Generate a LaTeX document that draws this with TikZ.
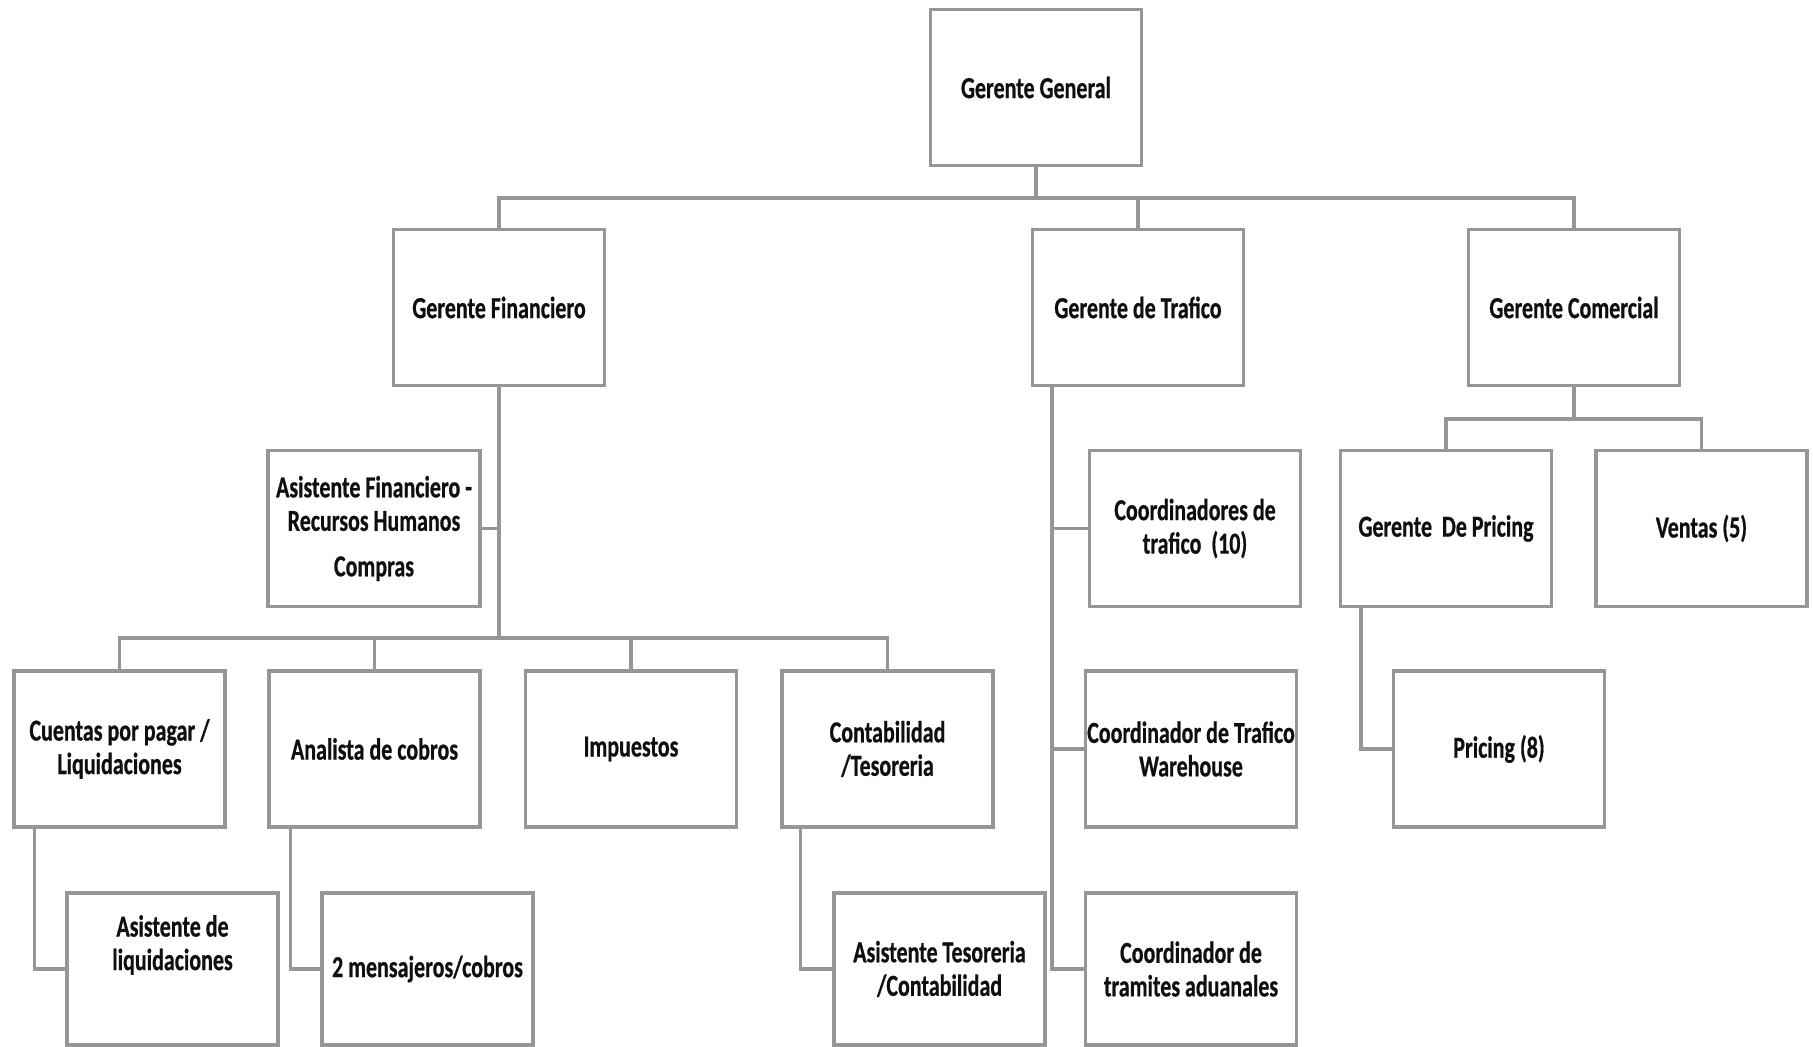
\documentclass[tikz,border=0pt]{standalone}
\usepackage{fontspec}
\setmainfont{Carlito}[FakeStretch=0.72, BoldFeatures={FakeBold=0.6}]
\definecolor{linegray}{RGB}{150,150,150}
\definecolor{txt}{RGB}{15,15,15}
\begin{document}
\begin{tikzpicture}[x=1pt,y=-1pt,
  box/.style={draw=linegray, line width=3.2pt, fill=white, minimum width=211pt, minimum height=156pt,
    inner sep=0pt, align=center, font=\fontsize{30.5}{33.5}\selectfont\bfseries, text=txt},
  conn/.style={draw=linegray, line width=3.2pt},
  lbl/.style={inner sep=0pt, align=center, font=\fontsize{30.5}{33.5}\selectfont\bfseries, text=txt}]
\useasboundingbox (0,0) rectangle (1813,1047);
% level 0/1
\node[box] (gg) at (1036,87.5) {Gerente General};
\node[box] (gf) at (499,307.5) {Gerente Financiero};
\node[box] (gt) at (1138,307.5) {Gerente de Trafico};
\node[box] (gc) at (1574,307.5) {Gerente Comercial};
% financiero
\node[box, minimum width=212pt] (af) at (374,528.5) {Asistente Financiero -\\Recursos Humanos\\[12pt]Compras};
\node[box] (cp) at (119.5,749) {Cuentas por pagar /\\Liquidaciones};
\node[box] (an) at (374.5,749) {Analista de cobros};
\node[box] (im) at (631,749) {Impuestos};
\node[box] (co) at (887.5,749) {Contabilidad\\/Tesoreria};
\node[box, minimum height=152pt] (al) at (172.5,969) {};
\node[lbl] (altext) at ([yshift=24pt]al.center) {Asistente de\\liquidaciones};
\node[box, minimum height=152pt] (me) at (427.5,969) {2 mensajeros/cobros};
\node[box, minimum height=152pt] (at) at (939.5,969) {Asistente Tesoreria\\/Contabilidad};
% trafico
\node[box] (ct) at (1195,528.5) {Coordinadores de\\trafico\ \ (10)};
\node[box] (cw) at (1191,749) {Coordinador de Trafico\\Warehouse};
\node[box, minimum height=152pt] (ca) at (1191,969) {Coordinador de\\tramites aduanales};
% comercial
\node[box] (gp) at (1446,528.5) {Gerente\ \ De Pricing};
\node[box] (ve) at (1701.5,528.5) {Ventas (5)};
\node[box] (pr) at (1499,749) {Pricing (8)};
% connectors
\coordinate (bus0) at (1036,198);
\draw[conn] (gg.south) -- (bus0);
\draw[conn] (bus0) -| (gf.north);
\draw[conn] (bus0) -| (gt.north);
\draw[conn] (bus0) -| (gc.north);
\coordinate (bus1) at (499,638);
\draw[conn] (gf.south) -- (bus1);
\draw[conn] (af.east) -- (af.east -| gf.south);
\draw[conn] (bus1) -| (cp.north);
\draw[conn] (bus1) -| (an.north);
\draw[conn] (bus1) -| (im.north);
\draw[conn] (bus1) -| (co.north);
\draw[conn] ([xshift=22pt]cp.south west) |- (al.west);
\draw[conn] ([xshift=23pt]an.south west) |- (me.west);
\draw[conn] ([xshift=20pt]co.south west) |- (at.west);
\coordinate (tv) at ([xshift=21pt]gt.south west);
\draw[conn] (tv) |- (ca.west);
\draw[conn] (ct.west) -- (ct.west -| tv);
\draw[conn] (cw.west) -- (cw.west -| tv);
\coordinate (bus2) at (1574,419);
\draw[conn] (gc.south) -- (bus2);
\draw[conn] (bus2) -| (gp.north);
\draw[conn] (bus2) -| (ve.north);
\draw[conn] ([xshift=22pt]gp.south west) |- (pr.west);
\end{tikzpicture}
\end{document}
